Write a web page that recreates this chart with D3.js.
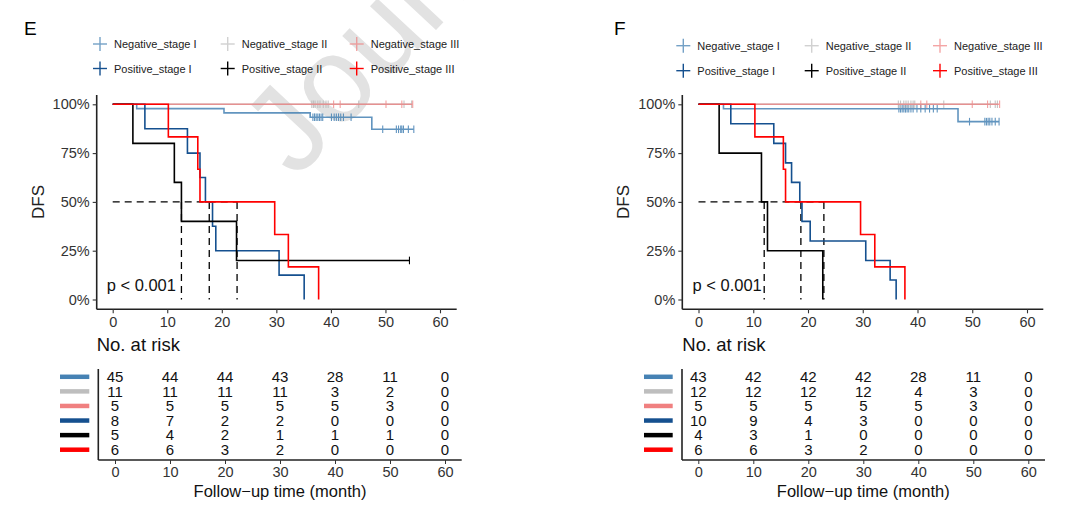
<!DOCTYPE html>
<html><head><meta charset="utf-8">
<script src="https://cdn.jsdelivr.net/npm/d3@7"></script>
<style>body{margin:0;background:#fff}svg{display:block;font-family:"Liberation Sans",Arial,sans-serif}</style>
</head><body><svg id="c" width="1080" height="519"></svg>
<script>
// ---------------- DATA ----------------
const strata = ["Negative_stage I","Negative_stage II","Negative_stage III","Positive_stage I","Positive_stage II","Positive_stage III"];
const timeTicks = [0,10,20,30,40,50,60];
const survTicks = [0,0.25,0.5,0.75,1];
const survTickLabels = ["0%","25%","50%","75%","100%"];
const pLabel = "p < 0.001";

// Panel E
const E_negI_time = [4.4,20.4,36.2,47.5];
const E_negI_surv = [0.978,0.956,0.934,0.872];
const E_negI_cens = [36.7,37.0,37.3,37.6,37.9,38.2,38.5,40.1,40.6,41.0,41.4,41.8,42.3,43.7,49.5,52.0,52.4,52.8,53.0,53.3,54.2,55.2];
const E_negII_time = [], E_negII_surv = [];
const E_negII_cens = [36.5,36.8,37.1,37.6,38.0,38.6,39.1,39.5,45.1,53.4,54.8];
const E_negIII_time = [], E_negIII_surv = [];
const E_negIII_cens = [40.5,41.7,50.1,53.0,55.0];
const E_posI_time = [5.9,13.7,16.0,17.0,18.3,18.9,30.5,35.1];
const E_posI_surv = [0.875,0.75,0.625,0.5,0.375,0.25,0.125,0];
const E_posI_cens = [];
const E_posII_time = [3.7,11.3,12.6,22.7];
const E_posII_surv = [0.8,0.6,0.4,0.2];
const E_posII_cens = [54.4];
const E_posIII_time = [10.2,15.6,16.0,29.7,32.2,37.75];
const E_posIII_surv = [0.833,0.667,0.5,0.333,0.167,0];
const E_posIII_cens = [];
const E_medians = [12.6,17.7,22.8];
const E_risk_negI = [45,44,44,43,28,11,0];
const E_risk_negII = [11,11,11,11,3,2,0];
const E_risk_negIII = [5,5,5,5,5,3,0];
const E_risk_posI = [8,7,2,2,0,0,0];
const E_risk_posII = [5,4,2,1,1,1,0];
const E_risk_posIII = [6,6,3,2,0,0,0];

// Panel F
const F_negI_time = [4.56,47.4];
const F_negI_surv = [0.977,0.911];
const F_negI_cens = [36.6,36.9,37.2,37.5,37.8,38.1,38.4,38.8,39.2,39.9,40.6,41.4,42.2,42.9,43.6,49.5,52.3,52.6,52.9,53.2,53.6,54.2,54.9];
const F_negII_time = [], F_negII_surv = [];
const F_negII_cens = [36.5,36.9,37.5,37.9,38.3,38.8,39.2,39.5,44.8,53.3,54.2,54.6];
const F_negIII_time = [], F_negIII_surv = [];
const F_negIII_cens = [40.6,41.7,50.0,52.8,55.0];
const F_posI_time = [5.9,13.75,15.9,17.0,18.5,18.9,20.4,30.55,35.0,36.1];
const F_posI_surv = [0.9,0.8,0.7,0.6,0.5,0.4,0.3,0.2,0.1,0];
const F_posI_cens = [];
const F_posII_time = [3.77,11.5,12.6,22.7];
const F_posII_surv = [0.75,0.5,0.25,0];
const F_posII_cens = [];
const F_posIII_time = [10.3,15.5,15.9,29.6,32.2,37.7];
const F_posIII_surv = [0.833,0.667,0.5,0.333,0.167,0];
const F_posIII_cens = [];
const F_medians = [12.0,18.7,22.9];
const F_risk_negI = [43,42,42,42,28,11,0];
const F_risk_negII = [12,12,12,12,4,3,0];
const F_risk_negIII = [5,5,5,5,5,3,0];
const F_risk_posI = [10,9,4,3,0,0,0];
const F_risk_posII = [4,3,1,0,0,0,0];
const F_risk_posIII = [6,6,3,2,0,0,0];

// ---------------- STYLE ----------------
const colors = ["#4682B4","#BEBEBE","#F08080","#15508F","#000000","#FF0000"];
const lineOpacity = [0.85,0.9,0.75,1,1,1];
const legendOpacity = [0.75,0.7,0.7,1,1,1];

const svg = d3.select("#c");

// watermark
svg.append("text").attr("x",0).attr("y",0)
  .attr("transform","translate(296,180) rotate(-47)")
  .attr("font-size",122).attr("fill","#e2e2e2")
  .attr("font-family","'Liberation Sans',Arial,sans-serif")
  .text("Journ");

function drawPanel(cfg){
  const g = svg.append("g");
  const x = d3.scaleLinear().domain([0,60]).range(cfg.xr);
  const y = d3.scaleLinear().domain([0,1]).range([299.5,104.3]);

  g.append("text").attr("x",cfg.letterX).attr("y",35).attr("font-size",19).text(cfg.letter);

  strata.forEach((s,i)=>{
    const col = i%3, row = Math.floor(i/3);
    const lx = cfg.legX[col], ly = cfg.legY[row];
    const lg = g.append("g").attr("opacity",legendOpacity[i]);
    lg.append("line").attr("x1",lx-7).attr("x2",lx+7).attr("y1",ly).attr("y2",ly).attr("stroke",colors[i]).attr("stroke-width",1.4);
    lg.append("line").attr("x1",lx).attr("x2",lx).attr("y1",ly-7).attr("y2",ly+7).attr("stroke",colors[i]).attr("stroke-width",1.4);
    g.append("text").attr("x",lx+14).attr("y",ly+4).attr("font-size",11).attr("fill","#222").text(s);
  });

  const xAxis = d3.axisBottom(x).tickValues(timeTicks).tickSize(4).tickPadding(3);
  const ax = g.append("g").attr("transform",`translate(0,309.3)`).call(xAxis);
  ax.select(".domain").attr("d",`M${cfg.axL},0H${cfg.axR}`);
  const yAxis = d3.axisLeft(y).tickValues(survTicks).tickFormat((d,i)=>survTickLabels[i]).tickSize(4).tickPadding(3);
  const ay = g.append("g").attr("transform",`translate(${cfg.axL},0)`).call(yAxis);
  ay.select(".domain").attr("d",`M0,95V309.3`);
  [ax,ay].forEach(a=>{
    a.selectAll("text").attr("font-size",14.5).attr("fill","#333").attr("font-family","'Liberation Sans',Arial,sans-serif");
    a.selectAll("line").attr("stroke","#333").attr("stroke-width",1.1);
    a.select(".domain").attr("stroke","#222").attr("stroke-width",1.6);
  });
  g.append("text").attr("transform",`translate(${cfg.axL-53},202) rotate(-90)`).attr("text-anchor","middle").attr("font-size",17).attr("fill","#222").text("DFS");

  const mMax = d3.max(cfg.medians);
  g.append("path").attr("d",`M${x(0)},${y(0.5)}H${x(mMax)}`).attr("stroke","#000").attr("stroke-width",1.3).attr("stroke-dasharray","7,5").attr("fill","none");
  cfg.medians.forEach(m=>{
    g.append("path").attr("d",`M${x(m)},${y(0.5)}V${y(0)}`).attr("stroke","#000").attr("stroke-width",1.3).attr("stroke-dasharray","7,5").attr("fill","none");
  });

  const line = d3.line().x(d=>x(d[0])).y(d=>y(d[1])).curve(d3.curveStepAfter);
  cfg.series.forEach((sr,i)=>{
    const pts = [[0,1]];
    sr.time.forEach((t,k)=>pts.push([t,sr.surv[k]]));
    const lastS = sr.surv.length? sr.surv[sr.surv.length-1] : 1;
    const end = Math.max(sr.time.length? d3.max(sr.time):0, sr.cens.length? d3.max(sr.cens):0);
    pts.push([end,lastS]);
    const sg = g.append("g").attr("opacity",lineOpacity[i]);
    sg.append("path").attr("d",line(pts)).attr("fill","none").attr("stroke",colors[i]).attr("stroke-width",1.6);
    const sAt = t=>{let s=1; sr.time.forEach((tt,k)=>{ if(tt<=t) s=sr.surv[k];}); return s;};
    sr.cens.forEach(t=>{
      sg.append("line").attr("x1",x(t)).attr("x2",x(t)).attr("y1",y(sAt(t))-3.8).attr("y2",y(sAt(t))+3.8).attr("stroke",colors[i]).attr("stroke-width",1.1);
    });
  });

  g.append("text").attr("x",cfg.xr[0]-6).attr("y",291).attr("font-size",16.5).attr("fill","#111").text(pLabel);

  const xt = d3.scaleLinear().domain([0,60]).range(cfg.xtr);
  g.append("text").attr("x",cfg.axL).attr("y",351).attr("font-size",18.5).attr("fill","#111").text("No. at risk");
  const rowY = d3.scaleBand().domain(d3.range(6)).range([369.5,457]);
  cfg.risk.forEach((row,i)=>{
    const cy = rowY(i)+rowY.bandwidth()/2;
    g.append("line").attr("x1",cfg.barX[0]).attr("x2",cfg.barX[1]).attr("y1",cy).attr("y2",cy).attr("stroke",colors[i]).attr("stroke-width",4.5);
    row.forEach((v,k)=>{
      g.append("text").attr("x",xt(timeTicks[k])).attr("y",cy+5.3).attr("text-anchor","middle").attr("font-size",15).attr("fill","#111").text(v);
    });
  });
  const tx = d3.axisBottom(xt).tickValues(timeTicks).tickSize(4).tickPadding(3);
  const at = g.append("g").attr("transform","translate(0,460)").call(tx);
  at.select(".domain").attr("d",`M${cfg.tAxL},0H${cfg.tAxR}`).attr("stroke","#222").attr("stroke-width",1.6);
  at.selectAll("text").attr("font-size",14.5).attr("fill","#333").attr("font-family","'Liberation Sans',Arial,sans-serif");
  at.selectAll("line").attr("stroke","#333");
  g.append("path").attr("d",`M${cfg.tAxL},369V460`).attr("stroke","#222").attr("stroke-width",1.6);
  g.append("text").attr("x",(cfg.xtr[0]+cfg.xtr[1])/2).attr("y",497).attr("text-anchor","middle").attr("font-size",16.5).attr("fill","#111").text("Follow\u2212up time (month)");
}

const mk = (t,s,c)=>({time:t,surv:s,cens:c});

drawPanel({
  letter:"E", letterX:24, xr:[112.7,440], axL:96.7, axR:456.7,
  legX:[100,227.7,356.7], legY:[44,68.5],
  medians:E_medians,
  series:[mk(E_negI_time,E_negI_surv,E_negI_cens),mk(E_negII_time,E_negII_surv,E_negII_cens),mk(E_negIII_time,E_negIII_surv,E_negIII_cens),
          mk(E_posI_time,E_posI_surv,E_posI_cens),mk(E_posII_time,E_posII_surv,E_posII_cens),mk(E_posIII_time,E_posIII_surv,E_posIII_cens)],
  risk:[E_risk_negI,E_risk_negII,E_risk_negIII,E_risk_posI,E_risk_posII,E_risk_posIII],
  xtr:[115,445], tAxL:98.3, tAxR:461.7, barX:[60,89.3]
});
drawPanel({
  letter:"F", letterX:614, xr:[698.5,1027], axL:682.3, axR:1043.3,
  legX:[683.3,811.7,940], legY:[45.7,70.7],
  medians:F_medians,
  series:[mk(F_negI_time,F_negI_surv,F_negI_cens),mk(F_negII_time,F_negII_surv,F_negII_cens),mk(F_negIII_time,F_negIII_surv,F_negIII_cens),
          mk(F_posI_time,F_posI_surv,F_posI_cens),mk(F_posII_time,F_posII_surv,F_posII_cens),mk(F_posIII_time,F_posIII_surv,F_posIII_cens)],
  risk:[F_risk_negI,F_risk_negII,F_risk_negIII,F_risk_posI,F_risk_posII,F_risk_posIII],
  xtr:[698.3,1028.3], tAxL:682, tAxR:1045, barX:[644,672.7]
});
</script></body></html>
